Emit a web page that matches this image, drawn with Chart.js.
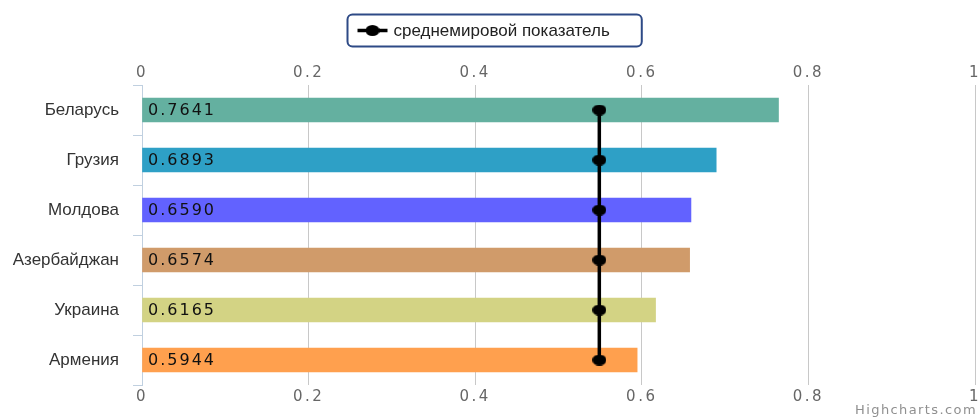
<!DOCTYPE html>
<html>
<head>
<meta charset="utf-8">
<script src="https://cdn.jsdelivr.net/npm/chart.js@4.4.1/dist/chart.umd.min.js"></script>
<style>
  html, body { margin: 0; padding: 0; background: #ffffff; }
  #wrap { width: 979px; height: 417px; position: relative; }
</style>
</head>
<body>
<div id="wrap"><canvas id="c" width="979" height="417"></canvas></div>
<script>
// Human development index by country, with the world average
const countries = ['Беларусь', 'Грузия', 'Молдова', 'Азербайджан', 'Украина', 'Армения'];
const hdiValues = [0.7641, 0.6893, 0.6590, 0.6574, 0.6165, 0.5944];
const worldAverage = [0.549, 0.549, 0.549, 0.549, 0.549, 0.549];
const barColors = ['#64b0a0', '#2ea0c6', '#6262ff', '#d09b6a', '#d3d384', '#ffa04e'];
const xTicks = [0, 0.2, 0.4, 0.6, 0.8, 1];
const averageLabel = 'среднемировой показатель';
const creditText = 'Highcharts.com';

// Black elliptical marker used for the average line and its legend entry
function ellipseMarker(w, h) {
  const c = document.createElement('canvas');
  c.width = w; c.height = h;
  const g = c.getContext('2d');
  g.fillStyle = '#000';
  g.beginPath();
  g.ellipse(w / 2, h / 2, w / 2, h / 2, 0, 0, Math.PI * 2);
  g.fill();
  return c;
}
const marker = ellipseMarker(14, 11);

// Draw a scale's labels with extra letter spacing
function spacedLabels(scale, spacing) {
  if (scale._spaced) return;
  scale._spaced = true;
  const orig = scale.drawLabels.bind(scale);
  scale.drawLabels = (area) => {
    const ctx = scale.ctx;
    ctx.save();
    ctx.letterSpacing = spacing;
    orig(area);
    ctx.restore();
  };
}

const tickFont = { family: 'DejaVu Sans', size: 15 };

function xAxis(position, showGrid, height) {
  return {
    type: 'linear',
    position: position,
    min: 0,
    max: 1,
    grid: { display: showGrid, drawTicks: false, color: '#c8c8c8', lineWidth: 1 },
    border: { display: false },
    ticks: {
      padding: 3,
      color: '#666666',
      font: tickFont,
      callback: (v) => String(v)
    },
    afterBuildTicks(s) { s.ticks = xTicks.map(v => ({ value: v })); },
    afterFit(s) { s.height = height; s.paddingRight = 4; s.paddingLeft = 0; },
    afterUpdate(s) { spacedLabels(s, '2.5px'); }
  };
}

// Value labels written inside each bar
const barValueLabels = {
  id: 'barValueLabels',
  afterDatasetsDraw(chart) {
    const meta = chart.getDatasetMeta(0);
    const ctx = chart.ctx;
    const x0 = chart.scales.x.getPixelForValue(0);
    ctx.save();
    ctx.font = '16px "DejaVu Sans"';
    ctx.letterSpacing = '2px';
    ctx.fillStyle = '#111111';
    ctx.textAlign = 'left';
    ctx.textBaseline = 'middle';
    meta.data.forEach((bar, i) => {
      ctx.fillText(hdiValues[i].toFixed(4), x0 + 6, bar.y + 1);
    });
    ctx.restore();
  }
};

// Boxed legend for the average series and the credit line
const boxedLegend = {
  id: 'boxedLegend',
  afterDraw(chart) {
    const ctx = chart.ctx;
    ctx.save();
    ctx.font = '17px "Liberation Sans"';
    const tw = ctx.measureText(averageLabel).width;
    const w = 10 + 30 + 6 + tw + 32;
    const h = 32;
    const left = Math.round(chart.width / 2 + 5 - w / 2) + 0.5;
    const top = 14.5;
    ctx.lineWidth = 2;
    ctx.strokeStyle = '#2e4a86';
    ctx.beginPath();
    ctx.roundRect(left, top, w, h, 5);
    ctx.stroke();
    const cy = top + h / 2;
    ctx.strokeStyle = '#000';
    ctx.lineWidth = 3.5;
    ctx.beginPath();
    ctx.moveTo(left + 10, cy);
    ctx.lineTo(left + 40, cy);
    ctx.stroke();
    ctx.drawImage(marker, left + 25 - marker.width / 2, cy - marker.height / 2);
    ctx.fillStyle = '#222222';
    ctx.textAlign = 'left';
    ctx.textBaseline = 'middle';
    ctx.fillText(averageLabel, left + 46, cy + 1);

    ctx.font = '13px "DejaVu Sans"';
    ctx.letterSpacing = '1.4px';
    ctx.fillStyle = '#909090';
    ctx.textAlign = 'right';
    ctx.textBaseline = 'alphabetic';
    ctx.fillText(creditText, chart.width - 2, 414);
    ctx.restore();
  }
};

new Chart(document.getElementById('c'), {
  data: {
    labels: countries,
    datasets: [
      {
        type: 'bar',
        label: 'ИЧР',
        data: hdiValues,
        backgroundColor: barColors,
        borderWidth: 0,
        barThickness: 24,
        xAxisID: 'x',
        yAxisID: 'y',
        order: 2
      },
      {
        type: 'line',
        label: averageLabel,
        data: worldAverage,
        indexAxis: 'y',
        borderColor: '#000000',
        borderWidth: 3.5,
        pointStyle: marker,
        pointRadius: 6,
        fill: false,
        tension: 0,
        xAxisID: 'x',
        yAxisID: 'y',
        order: 1
      }
    ]
  },
  options: {
    indexAxis: 'y',
    responsive: false,
    animation: false,
    devicePixelRatio: 1,
    layout: { padding: 0, autoPadding: false },
    plugins: {
      legend: { display: false },
      tooltip: { enabled: false }
    },
    scales: {
      y: {
        type: 'category',
        position: 'left',
        offset: true,
        grid: { offset: true, drawOnChartArea: false, drawTicks: true, tickLength: 9, color: '#c0d0e0', lineWidth: 1 },
        border: { display: true, color: '#c0d0e0', width: 1 },
        ticks: { padding: 14, color: '#333333', font: { family: 'Liberation Sans', size: 17 } },
        afterFit(s) { s.width = 142; }
      },
      x: xAxis('bottom', true, 32),
      x2: xAxis('top', false, 85)
    }
  },
  plugins: [barValueLabels, boxedLegend]
});
</script>
</body>
</html>
